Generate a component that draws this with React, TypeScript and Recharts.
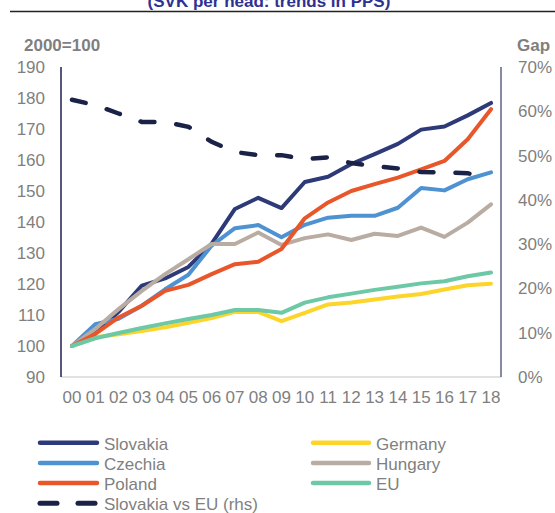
import { Line, LineChart, XAxis, YAxis } from "recharts";

const FONT = "'Liberation Sans', Arial, sans-serif";
const TICK = "#7f7f7f";

const YEARS = ["00", "01", "02", "03", "04", "05", "06", "07", "08", "09", "10", "11", "12", "13", "14", "15", "16", "17", "18"];

// index, 2000 = 100
const SLOVAKIA = [100, 104, 111, 119.5, 121.8, 125.5, 133, 144.2, 147.8, 144.5, 152.9, 154.6, 158.7, 161.9, 165.2, 169.8, 170.8, 174.4, 178.4];
const GERMANY = [100, 102.8, 103.8, 104.8, 106, 107.5, 109, 111, 111, 108, 110.7, 113.4, 114, 115, 116, 116.8, 118.2, 119.6, 120.1];
const CZECHIA = [100, 107, 108.8, 113, 118.3, 123, 132.4, 138, 139, 135.1, 139.1, 141.4, 142, 142, 144.6, 151, 150.2, 153.8, 156];
const HUNGARY = [100, 105.5, 111.9, 117.8, 123.2, 128, 132.9, 132.9, 136.6, 132.6, 134.8, 136, 134.2, 136.2, 135.5, 138.2, 135.2, 139.8, 145.7];
const POLAND = [100, 103.9, 109.2, 113, 117.8, 119.7, 123.2, 126.4, 127.2, 131.3, 141.2, 146.3, 150, 152.2, 154.3, 157, 159.7, 166.7, 176.4];
const EU = [100, 102.5, 104.2, 105.8, 107.3, 108.7, 110, 111.6, 111.6, 110.7, 114, 115.7, 116.9, 118.1, 119.1, 120.2, 120.9, 122.5, 123.7];
// gap Slovakia vs EU, % (rhs)
const GAP = [62.6, 61.4, 59.5, 57.6, 57.6, 56.5, 53.1, 50.8, 50.1, 50.1, 49.2, 49.6, 48.3, 47.6, 47.1, 46.3, 46.2, 46, 45];

const LEFT_TICKS = [90, 100, 110, 120, 130, 140, 150, 160, 170, 180, 190];
const RIGHT_TICKS = [0, 10, 20, 30, 40, 50, 60, 70];

const SERIES = [
  { key: "slovakia", name: "Slovakia", color: "#2e3a78" },
  { key: "germany", name: "Germany", color: "#fdd52a" },
  { key: "czechia", name: "Czechia", color: "#4f92d2" },
  { key: "hungary", name: "Hungary", color: "#b9aca3" },
  { key: "poland", name: "Poland", color: "#e8562a" },
  { key: "eu", name: "EU", color: "#6dc8a6" },
];
const GAP_COLOR = "#1b2248";

const data = YEARS.map((y, i) => ({
  year: y,
  slovakia: SLOVAKIA[i],
  germany: GERMANY[i],
  czechia: CZECHIA[i],
  hungary: HUNGARY[i],
  poland: POLAND[i],
  eu: EU[i],
  gap: GAP[i],
}));

const LEGEND_LEFT = [
  { name: "Slovakia", color: "#2e3a78", dashed: false },
  { name: "Czechia", color: "#4f92d2", dashed: false },
  { name: "Poland", color: "#e8562a", dashed: false },
  { name: "Slovakia vs EU (rhs)", color: GAP_COLOR, dashed: true },
];
const LEGEND_RIGHT = [
  { name: "Germany", color: "#fdd52a" },
  { name: "Hungary", color: "#b9aca3" },
  { name: "EU", color: "#6dc8a6" },
];

export default function App() {
  const tick = { fill: TICK, fontSize: 17, fontFamily: FONT };
  return (
    <div
      style={{
        position: "fixed",
        left: 0,
        top: 0,
        width: 555,
        height: 513,
        background: "#fff",
        overflow: "hidden",
        fontFamily: FONT,
      }}
    >
      <LineChart width={555} height={420} data={data} margin={{ top: 67, right: 0, left: 0, bottom: 0 }}>
        <XAxis
          dataKey="year"
          height={43}
          padding={{ left: 11, right: 10 }}
          axisLine={{ stroke: "#d9d9d9", strokeWidth: 1.5 }}
          tickLine={false}
          tickMargin={8}
          interval={0}
          tick={tick}
        />
        <YAxis
          yAxisId="left"
          orientation="left"
          width={61}
          domain={[90, 190]}
          ticks={LEFT_TICKS}
          interval={0}
          axisLine={{ stroke: "#1c2150", strokeWidth: 1.5 }}
          tickLine={false}
          tickMargin={10}
          tick={tick}
        />
        <YAxis
          yAxisId="right"
          orientation="right"
          width={54}
          domain={[0, 70]}
          ticks={RIGHT_TICKS}
          interval={0}
          tickFormatter={(v) => `${v}%`}
          axisLine={{ stroke: "#5c6282", strokeWidth: 1.5 }}
          tickLine={false}
          tickMargin={11}
          tick={tick}
        />
        {SERIES.map((s) => (
          <Line
            key={s.key}
            yAxisId="left"
            type="linear"
            dataKey={s.key}
            name={s.name}
            stroke={s.color}
            strokeWidth={4}
            strokeLinejoin="round"
            strokeLinecap="round"
            dot={false}
            activeDot={false}
            isAnimationActive={false}
          />
        ))}
        <Line
          yAxisId="right"
          type="linear"
          dataKey="gap"
          name="Slovakia vs EU (rhs)"
          stroke={GAP_COLOR}
          strokeWidth={4.5}
          strokeDasharray="14 22"
          strokeLinecap="round"
          dot={false}
          activeDot={false}
          isAnimationActive={false}
        />
      </LineChart>

      <svg width={555} height={513} style={{ position: "absolute", left: 0, top: 0, pointerEvents: "none" }}>
        {/* title cut off at the top edge, as in the source */}
        <text x={269} y={6.5} textAnchor="middle" fontSize={17} fontWeight="bold" fill="#2e3192" fontFamily={FONT}>
          (SVK per head: trends in PPS)
        </text>
        <line x1={10} y1={11.5} x2={555} y2={11.5} stroke="#222" strokeWidth={1.3} />

        <text x={24} y={51} fontSize={17} fontWeight="bold" fill={TICK} fontFamily={FONT}>
          2000=100
        </text>
        <text x={517} y={51} fontSize={17} fontWeight="bold" fill={TICK} fontFamily={FONT}>
          Gap
        </text>

        {LEGEND_LEFT.map((l, i) => {
          const cy = 442.7 + i * 20.2;
          return (
            <g key={l.name}>
              {l.dashed ? (
                <>
                  <line x1={40} y1={cy} x2={57} y2={cy} stroke={l.color} strokeWidth={5} strokeLinecap="round" />
                  <line x1={78} y1={cy} x2={95} y2={cy} stroke={l.color} strokeWidth={5} strokeLinecap="round" />
                </>
              ) : (
                <line x1={40} y1={cy} x2={97} y2={cy} stroke={l.color} strokeWidth={4.5} strokeLinecap="round" />
              )}
              <text x={104} y={cy + 6.8} fontSize={17} fill={TICK} fontFamily={FONT}>
                {l.name}
              </text>
            </g>
          );
        })}
        {LEGEND_RIGHT.map((l, i) => {
          const cy = 442.7 + i * 20.2;
          return (
            <g key={l.name}>
              <line x1={313} y1={cy} x2={369} y2={cy} stroke={l.color} strokeWidth={4.5} strokeLinecap="round" />
              <text x={376} y={cy + 6.8} fontSize={17} fill={TICK} fontFamily={FONT}>
                {l.name}
              </text>
            </g>
          );
        })}
      </svg>
    </div>
  );
}
